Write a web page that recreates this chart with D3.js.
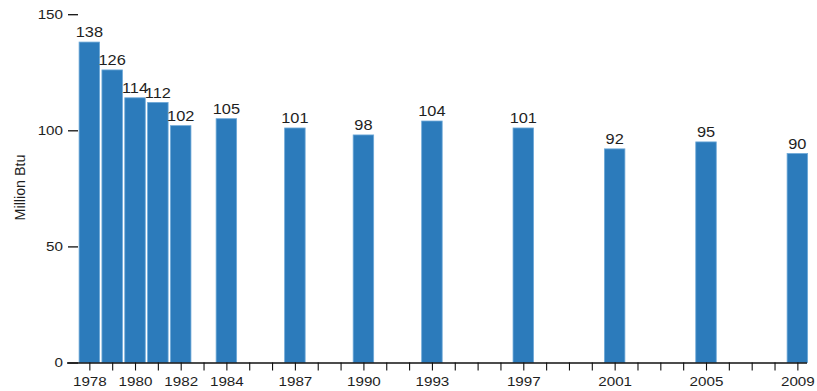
<!DOCTYPE html>
<html>
<head>
<meta charset="utf-8">
<script src="https://cdn.jsdelivr.net/npm/d3@7"></script>
<style>
  html, body { margin: 0; padding: 0; background: #fff; }
  svg { display: block; }
  text { font-family: "Liberation Sans", Arial, Helvetica, sans-serif; fill: #1e1e1e; }
</style>
</head>
<body>
<svg id="chart" width="817" height="391"></svg>
<script>
// Survey years and energy intensity per household (million Btu)
const years  = [1978, 1979, 1980, 1981, 1982, 1984, 1987, 1990, 1993, 1997, 2001, 2005, 2009];
const values = [138, 126, 114, 112, 102, 105, 101, 98, 104, 101, 92, 95, 90];
const labeledYears = [1978, 1980, 1982, 1984, 1987, 1990, 1993, 1997, 2001, 2005, 2009];
const yTicks = [0, 50, 100, 150];
const yTitle = "Million Btu";

const svg = d3.select("#chart");
const stretch = 1.17; // horizontal widening of glyphs

const x = d3.scaleLinear().domain([1977, 2009.4]).range([66.5, 806.5]);
const y = d3.scaleLinear().domain([0, 150]).range([362.5, 14.2]);
const barW = 20.5;

// bars
svg.append("g")
  .selectAll("rect")
  .data(years)
  .join("rect")
  .attr("x", (d) => x(d) - barW / 2)
  .attr("y", (d, i) => y(values[i]))
  .attr("width", barW)
  .attr("height", (d, i) => y(0) - y(values[i]))
  .attr("fill", "#2c7bbb")
  .attr("stroke", "#6ea9d8")
  .attr("stroke-width", 0.8);

// value labels
svg.append("g")
  .selectAll("text")
  .data(years)
  .join("text")
  .attr("text-anchor", "middle")
  .attr("font-size", 14)
  .attr("transform", (d, i) => `translate(${x(d)},${y(values[i]) - 4.8}) scale(${stretch},1)`)
  .text((d, i) => values[i]);

// x axis
const xAxis = d3.axisBottom(x)
  .tickValues(d3.range(1978, 2010))
  .tickFormat((d) => labeledYears.includes(d) ? String(d) : "")
  .tickSize(8)
  .tickSizeOuter(0)
  .tickPadding(6);

const gx = svg.append("g")
  .attr("transform", `translate(0,${y(0)})`)
  .call(xAxis);
gx.select(".domain").attr("stroke", "#111").attr("stroke-width", 1.3);
gx.selectAll(".tick line").attr("stroke", "#111").attr("stroke-width", 1.1);
gx.selectAll(".tick text")
  .attr("font-size", 13)
  .attr("font-family", null)
  .attr("fill", null)
  .attr("transform", `scale(${stretch},1)`);

// y axis
const yAxis = d3.axisLeft(y)
  .tickValues(yTicks)
  .tickSize(10)
  .tickPadding(5);

const gy = svg.append("g")
  .attr("transform", "translate(78,0)")
  .call(yAxis);
gy.select(".domain").remove();
gy.selectAll(".tick line").attr("stroke", "#111").attr("stroke-width", 1.3);
gy.selectAll(".tick text")
  .attr("font-size", 13)
  .attr("font-family", null)
  .attr("fill", null)
  .attr("x", 0)
  .attr("transform", `translate(-15,0) scale(${stretch},1)`);

// y axis title
svg.append("text")
  .attr("text-anchor", "middle")
  .attr("font-size", 13)
  .attr("transform", `translate(24.5,187.5) rotate(-90) scale(1.1,${stretch})`)
  .text(yTitle);
</script>
</body>
</html>
